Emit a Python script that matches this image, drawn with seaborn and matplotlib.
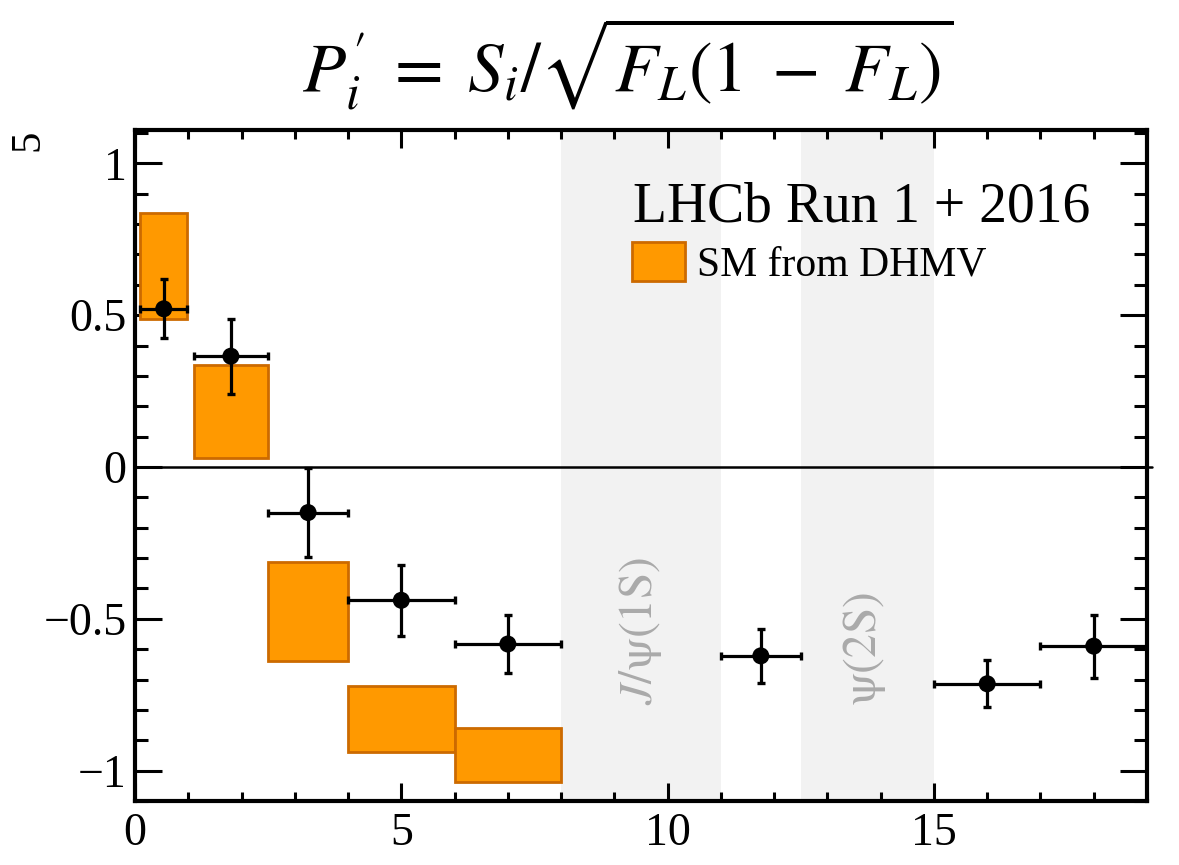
import numpy as np
import matplotlib
matplotlib.use("Agg")
import matplotlib.pyplot as plt
from matplotlib import font_manager
from matplotlib.patches import Patch
from matplotlib.ticker import MultipleLocator, FixedLocator, FixedFormatter
import seaborn as sns

# LHCb measurement of P5' (Run 1 + 2016), q^2 bins in GeV^2/c^4
bin_lo = [0.1, 1.1, 2.5, 4.0, 6.0, 11.0, 15.0, 17.0]
bin_hi = [0.98, 2.5, 4.0, 6.0, 8.0, 12.5, 17.0, 19.0]
p5_val = [0.521, 0.365, -0.150, -0.439, -0.583, -0.622, -0.714, -0.590]
p5_err = [0.097, 0.123, 0.147, 0.117, 0.095, 0.090, 0.077, 0.104]

# SM prediction (DHMV) bands per bin
sm_lo = [0.1, 1.1, 2.5, 4.0, 6.0]
sm_hi = [0.98, 2.5, 4.0, 6.0, 8.0]
sm_up = [0.836, 0.335, -0.312, -0.720, -0.859]
sm_dn = [0.487, 0.030, -0.638, -0.938, -1.039]

# charmonium veto regions
veto_lo = [8.0, 12.5]
veto_hi = [11.0, 15.0]
veto_names = [r"$J/\mathrm{\psi}(1\mathrm{S})$", r"$\mathrm{\psi}(2\mathrm{S})$"]
veto_label_x = [9.5, 13.7]
veto_label_y = [-0.54, -0.60]

xtick_vals = [0, 5, 10, 15]
xtick_labels = ["0", "5", "10", "15"]
ytick_vals = [-1, -0.5, 0, 0.5, 1]
ytick_labels = ["\u22121", "\u22120.5", "0", "0.5", "1"]

sns.set_style("ticks")

# Times-like serif for all plain text
installed = {f.name for f in font_manager.fontManager.ttflist}
serif_list = [n for n in ["Liberation Serif", "Times New Roman", "Nimbus Roman",
                          "DejaVu Serif"] if n in installed] or ["DejaVu Serif"]
plt.rcParams["font.family"] = "serif"
plt.rcParams["font.serif"] = serif_list
plt.rcParams["mathtext.fontset"] = "stix"
for key in ["text.color", "axes.labelcolor", "xtick.color", "ytick.color",
            "axes.edgecolor"]:
    plt.rcParams[key] = "black"

fig = plt.figure(figsize=(11.79, 8.65), dpi=100)
ax = fig.add_axes([135 / 1179, 1 - 801 / 865, (1147 - 135) / 1179, (801 - 130) / 865])

orange = "#ff9900"
orange_edge = "#cc6a00"

# veto bands
for lo, hi in zip(veto_lo, veto_hi):
    ax.axvspan(lo, hi, color="#f2f2f2", lw=0, zorder=0)
for xl, yl, name in zip(veto_label_x, veto_label_y, veto_names):
    ax.text(xl, yl, name, rotation=90, ha="center", va="center",
            color="#aaaaaa", fontsize=34, zorder=1)

ax.axhline(0, xmin=0, xmax=1.005, color="black", lw=1.8, zorder=1, clip_on=False)

# SM boxes
sm_lo_a = np.array(sm_lo)
sm_hi_a = np.array(sm_hi)
sm_up_a = np.array(sm_up)
sm_dn_a = np.array(sm_dn)
ax.bar(sm_lo_a, sm_up_a - sm_dn_a, width=sm_hi_a - sm_lo_a, bottom=sm_dn_a,
       align="edge", facecolor=orange, edgecolor=orange_edge, linewidth=2.0, zorder=2)

# data points
lo_a = np.array(bin_lo)
hi_a = np.array(bin_hi)
centers = 0.5 * (lo_a + hi_a)
half = 0.5 * (hi_a - lo_a)
ax.errorbar(centers, p5_val, xerr=half, yerr=p5_err, fmt="none", ecolor="black",
            elinewidth=2.3, capsize=2.8, capthick=2.4, zorder=3)
sns.scatterplot(x=centers, y=p5_val, color="black", s=150, edgecolor="none",
                zorder=4, ax=ax, legend=False)

ax.set_xlim(0, 19)
ax.set_ylim(-1.1, 1.11)

ax.xaxis.set_major_locator(FixedLocator(xtick_vals))
ax.xaxis.set_major_formatter(FixedFormatter(xtick_labels))
ax.yaxis.set_major_locator(FixedLocator(ytick_vals))
ax.yaxis.set_major_formatter(FixedFormatter(ytick_labels))
ax.xaxis.set_minor_locator(MultipleLocator(1))
ax.yaxis.set_minor_locator(MultipleLocator(0.1))

ax.tick_params(which="both", direction="in", top=True, right=True, width=2.2,
               labelsize=33, colors="black")
ax.tick_params(axis="x", which="major", length=13, pad=8)
ax.tick_params(axis="x", which="minor", length=6.5)
ax.tick_params(axis="y", which="major", length=19.5, pad=6)
ax.tick_params(axis="y", which="minor", length=9.5)
for sp in ax.spines.values():
    sp.set_linewidth(3.0)
    sp.set_color("black")
ax.set_xlabel("")
ax.set_ylabel("")

# title
fig.text(628 / 1179, 1 - 92 / 865,
         r"$P_i^{\prime}\;=\;S_i/\sqrt{F_L(1\;-\;F_L)}$",
         ha="center", va="baseline", fontsize=51)

# axis label P'_5 with a deep ROOT-style subscript at the top left
fig.text(4 / 1179, 1 - 175 / 865, r"$P'$", rotation=90, ha="right", va="center",
         fontsize=44)
fig.text(28 / 1179, 1 - 140 / 865, "5", rotation=90, ha="center", va="center",
         fontsize=31)

# legend
fig.text(633 / 1179, 1 - 222 / 865, "LHCb Run 1 + 2016", ha="left", va="baseline",
         fontsize=40)
handle = Patch(facecolor=orange, edgecolor=orange_edge, linewidth=2.0)
fig.legend(handles=[handle], labels=["SM from DHMV"], loc="center left",
           bbox_to_anchor=(632 / 1179, 1 - 263 / 865), frameon=False,
           fontsize=30, handlelength=1.27, handleheight=1.08, handletextpad=0.28,
           borderpad=0, borderaxespad=0)

fig.savefig("out.png", dpi=100)
